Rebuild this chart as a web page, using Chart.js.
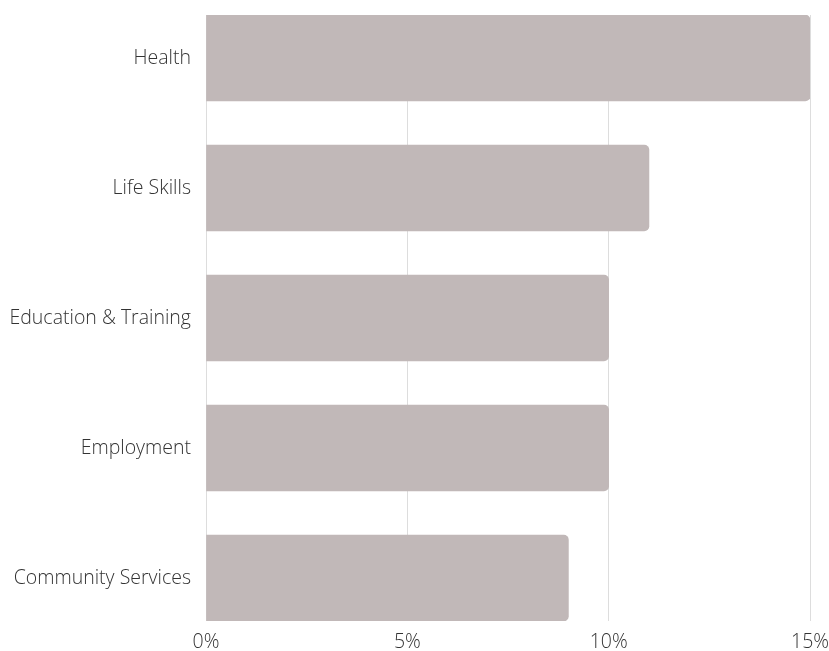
<!DOCTYPE html>
<html>
<head>
<meta charset="utf-8">
<script src="https://cdn.jsdelivr.net/npm/chart.js@4"></script>
<style>
  html, body { margin: 0; padding: 0; background: #fff; }
  #wrap { width: 829px; height: 651px; }
</style>
</head>
<body>
<div id="wrap"><canvas id="c" width="829" height="651"></canvas></div>
<script>
// Share of programmes by focus area (%)
const categories = ["Health", "Life Skills", "Education & Training", "Employment", "Community Services"];
const shares = [15, 11, 10, 10, 9];
const xTicks = [0, 5, 10, 15];

const points = categories.map((c, i) => ({ x: shares[i], y: i }));

new Chart(document.getElementById('c'), {
  type: 'bar',
  data: {
    datasets: [{
      data: points,
      backgroundColor: '#c1b8b8',
      borderWidth: 0,
      borderSkipped: 'start',
      borderRadius: 5,
      barThickness: 86
    }]
  },
  options: {
    indexAxis: 'y',
    responsive: false,
    animation: false,
    layout: { padding: { top: 15, right: 0, bottom: 0, left: 10 } },
    plugins: { legend: { display: false }, tooltip: { enabled: false } },
    scales: {
      x: {
        type: 'linear',
        min: 0,
        max: 15,
        afterBuildTicks: s => { s.ticks = xTicks.map(v => ({ value: v })); },
        afterFit: s => { s.height = 30; s.paddingLeft = 0; s.paddingRight = 19; },
        grid: { color: '#dddddd', drawTicks: false },
        border: { display: false },
        ticks: {
          padding: 10,
          color: '#333',
          font: { family: 'Open Sans', size: 19.5, weight: '300' },
          callback: v => v + '%'
        }
      },
      y: {
        type: 'linear',
        reverse: true,
        offset: false,
        min: -0.3308,
        max: 4.3308,
        afterBuildTicks: s => { s.ticks = categories.map((c, i) => ({ value: i })); },
        afterFit: s => { s.width = 196; s.paddingTop = 0; s.paddingBottom = 0; },
        grid: { display: false, drawTicks: false },
        border: { display: false },
        ticks: {
          padding: 15,
          color: '#333',
          font: { family: 'Open Sans', size: 19.5, weight: '300' },
          callback: v => categories[v]
        }
      }
    }
  }
});
</script>
</body>
</html>
